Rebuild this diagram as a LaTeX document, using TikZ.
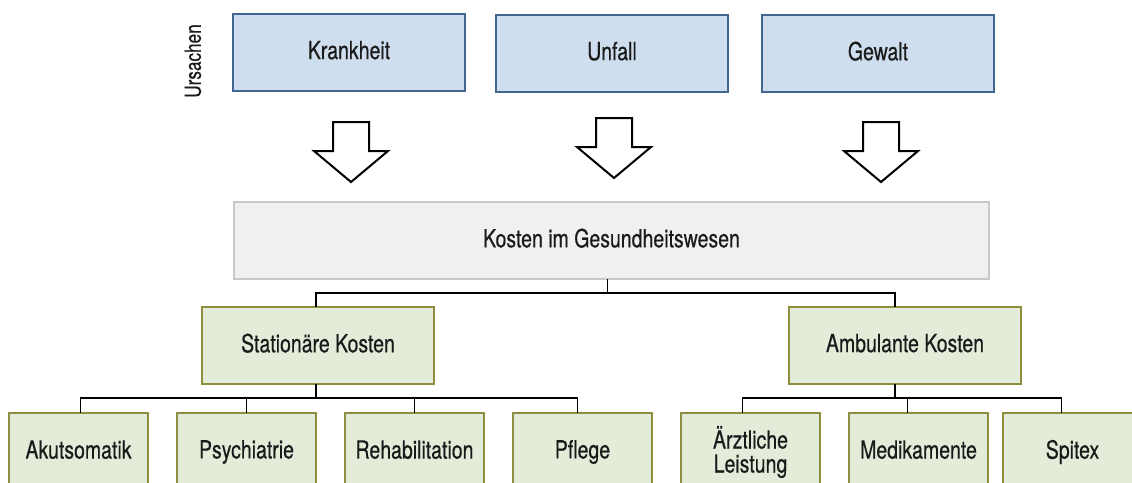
\documentclass[tikz,border=0pt]{standalone}
\usepackage{fontspec}
\setmainfont[FakeStretch=0.78,FakeBold=0.4]{TeX Gyre Heros}
\definecolor{bluefill}{HTML}{CFDEEE}
\definecolor{blueline}{HTML}{41668F}
\definecolor{greenfill}{HTML}{E3ECD9}
\definecolor{greenline}{HTML}{8E8E3C}
\definecolor{grayfill}{HTML}{F0F0F0}
\definecolor{grayline}{HTML}{C8C8C8}
\definecolor{txt}{HTML}{1A1A1A}
\newcommand\mystrut{\rule[-5pt]{0pt}{22pt}}
\begin{document}
\begin{tikzpicture}[x=1pt,y=-1pt,
  box/.style={anchor=north west,inner sep=0pt,outer sep=0pt,align=center,text=txt,
    font=\fontsize{25}{24}\selectfont,execute at begin node=\mystrut},
  cause/.style={box,draw=blueline,fill=bluefill,line width=1.5pt,minimum width=232pt,minimum height=77pt},
  midbox/.style={box,draw=grayline,fill=grayfill,line width=1.5pt,minimum width=755pt,minimum height=77pt},
  catbox/.style={box,draw=greenline,fill=greenfill,line width=1.5pt,minimum width=232pt,minimum height=77pt},
  leaf/.style={box,draw=greenline,fill=greenfill,line width=1.5pt,minimum width=139pt,minimum height=78pt},
  conn/.style={draw=black,line width=1.3pt},
  blockarrow/.style={draw=black,fill=white,line width=2pt,line join=miter}]
\useasboundingbox (0,0) rectangle (1132,482);
\clip (0,0) rectangle (1132,482);
% causes
\node[cause] (krank) at (233,14) {Krankheit};
\node[cause] (unfall) at (496,15) {Unfall};
\node[cause] (gewalt) at (762,15) {Gewalt};
\node[text=txt,font=\fontsize{22}{22}\selectfont,rotate=90,inner sep=0pt] (urs) at (193,61) {Ursachen};
% block arrows
\foreach \cx/\ty in {351/122, 614/118, 881/122}
  \draw[blockarrow] (\cx-18,\ty) -- (\cx+18,\ty) -- (\cx+18,\ty+29) -- (\cx+37,\ty+29)
     -- (\cx,\ty+60) -- (\cx-37,\ty+29) -- (\cx-18,\ty+29) -- cycle;
% middle
\node[midbox] (mid) at (234,202) {Kosten im Gesundheitswesen};
% categories
\node[catbox] (stat) at (202,307) {Stationäre Kosten};
\node[catbox] (amb) at (789,307) {Ambulante Kosten};
% leaves
\node[leaf] (akut) at (9,413) {Akutsomatik};
\node[leaf] (psych) at (177,413) {Psychiatrie};
\node[leaf] (reha) at (345,413) {Rehabilitation};
\node[leaf] (pfl) at (513,413) {Pflege};
\node[leaf] (arzt) at (681,413) {Ärztliche\\Leistung};
\node[leaf] (medi) at (849,413) {Medikamente};
\node[leaf] (spit) at (1003,413) {Spitex};
% connectors
\draw[conn] ([xshift=-4pt]mid.south) -- ++(0,14) coordinate (j1);
\draw[conn] ([xshift=-2pt]stat.north) |- (j1) -| ([xshift=-10pt]amb.north);
\draw[conn] ([xshift=-2pt]stat.south) -- ++(0,14) coordinate (j2);
\draw[conn] ([xshift=2pt]akut.north) |- (j2) -| ([xshift=-5pt]pfl.north);
\draw[conn] (psych.north) -- (psych.north |- j2);
\draw[conn] (reha.north) -- (reha.north |- j2);
\draw[conn] ([xshift=-10pt]amb.south) -- ++(0,14) coordinate (j3);
\draw[conn] ([xshift=-8pt]arzt.north) |- (j3) -| ([xshift=-11pt]spit.north);
\draw[conn] ([xshift=-11pt]medi.north) -- ([xshift=-11pt]medi.north |- j3);
\end{tikzpicture}
\end{document}
